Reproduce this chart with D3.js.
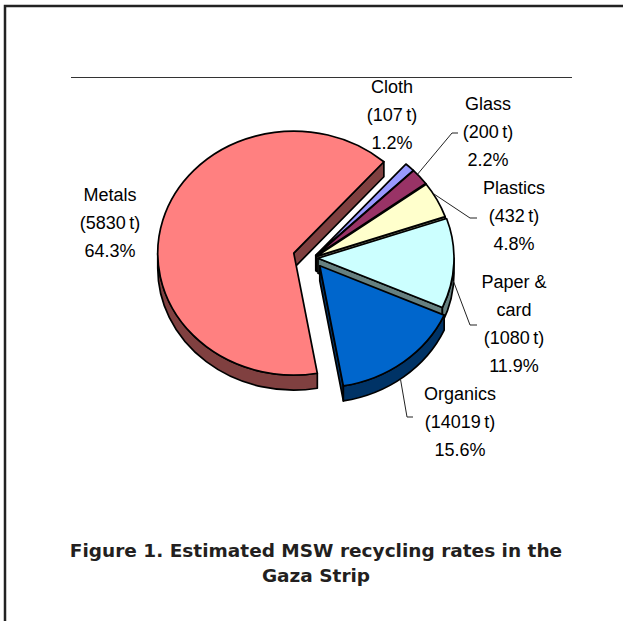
<!DOCTYPE html>
<html>
<head>
<meta charset="utf-8">
<script src="https://cdn.jsdelivr.net/npm/d3@7"></script>
<style>
  html, body { margin: 0; padding: 0; background: #fff; }
  svg { display: block; font-family: "Liberation Sans", Arial, sans-serif; }
</style>
</head>
<body>
<div id="chart"></div>
<script>
// Data, listed clockwise starting from the top right of the pie
const categories = ['Cloth', 'Glass', 'Plastics', 'Paper & card', 'Organics', 'Metals'];
const nameLines = [['Cloth'], ['Glass'], ['Plastics'], ['Paper &', 'card'], ['Organics'], ['Metals']];
const tonnes = [107, 200, 432, 1080, 14019, 5830];
const percents = [1.2, 2.2, 4.8, 11.9, 15.6, 64.3];
const topColors = ['#9999FF', '#993366', '#FFFFCC', '#CCFFFF', '#0066CC', '#FF8080'];
const titleLines = ['Figure 1. Estimated MSW recycling rates in the', 'Gaza Strip'];

// Layout
const W = 623, H = 621;
const geo = { cx: 313, cy: 258, rx: 136, ry: 122, depth: 15, startDeg: 41.5 };
const explode = [4, 4, 4, 5, 11, 20];
const lineGap = 28;
// label block centre x / first baseline, plus leader line (t = position along slice arc, w = share of wall depth)
const labelLayout = [
    { x: 392, y: 93 },
    { x: 488, y: 110, leader: { t: 0.3, w: 0, elbow: [452, 133], end: [458, 133] } },
    { x: 514, y: 194, leader: { t: 0.3, w: 0, elbow: [470, 218], end: [477, 218] } },
    { x: 514, y: 288, leader: { t: 0.57, w: 0.75, elbow: [470, 325], end: [477, 325] } },
    { x: 460, y: 400, leader: { t: 0.53, w: 1, elbow: [407, 417], end: [413, 417] } },
    { x: 110, y: 201 }
];

const data = categories.map((c, i) => ({
    name: c, lines: nameLines[i], tonnes: tonnes[i], pct: percents[i],
    color: topColors[i], explode: explode[i], label: labelLayout[i]
}));

const start = geo.startDeg * Math.PI / 180;
const pie = d3.pie().sort(null).value(d => d.pct)
    .startAngle(start).endAngle(start + 2 * Math.PI);
const arcs = pie(data);

const svg = d3.select('#chart').append('svg')
    .attr('width', W)
    .attr('height', H);

// Frame (top and left rules) and the thin rule above the chart
svg.append('path')
    .attr('d', `M5,${H}V6H${W}`)
    .attr('fill', 'none')
    .attr('stroke', '#222')
    .attr('stroke-width', 2.5);

svg.append('line')
    .attr('x1', 71).attr('x2', 572)
    .attr('y1', 77.5).attr('y2', 77.5)
    .attr('stroke', '#333')
    .attr('stroke-width', 1);

const k = geo.ry / geo.rx;
const pt = (c, a) => [c[0] + geo.rx * Math.sin(a), c[1] - geo.ry * Math.cos(a)];
const fmt = d3.format('.1f');

function sideColor(c) {
    const r = d3.rgb(c);
    return d3.rgb(r.r * 0.5, r.g * 0.5, r.b * 0.5).formatHex();
}

arcs.forEach(a => {
    const mid = (a.startAngle + a.endAngle) / 2;
    const e = a.data.explode;
    a.center = [geo.cx + e * Math.sin(mid), geo.cy - e * Math.cos(mid) * k];
    a.mid = mid;
});

function topPath(c, a0, a1) {
    const p0 = pt(c, a0), p1 = pt(c, a1);
    const large = a1 - a0 > Math.PI ? 1 : 0;
    return `M${c}L${p0}A${geo.rx},${geo.ry} 0 ${large} 1 ${p1}Z`;
}

function wallPath(c, s, e) {
    const d = geo.depth;
    const p0 = pt(c, s), p1 = pt(c, e);
    const large = e - s > Math.PI ? 1 : 0;
    return `M${p0}A${geo.rx},${geo.ry} 0 ${large} 1 ${p1}` +
        `L${p1[0]},${p1[1] + d}A${geo.rx},${geo.ry} 0 ${large} 0 ${p0[0]},${p0[1] + d}Z`;
}

function cutPath(c, a) {
    const d = geo.depth;
    const p = pt(c, a);
    return `M${c}L${p}L${p[0]},${p[1] + d}L${c[0]},${c[1] + d}Z`;
}

// side pieces: visible cut faces and the front part of the outer wall
const sides = [];
arcs.forEach(a => {
    const c = a.center, fill = sideColor(a.data.color);
    if (Math.cos(a.startAngle - Math.PI / 2) < 0) sides.push({ d: cutPath(c, a.startAngle), fill, z: -Math.cos(a.mid) });
    if (Math.cos(a.endAngle + Math.PI / 2) < 0) sides.push({ d: cutPath(c, a.endAngle), fill, z: -Math.cos(a.mid) });
    [0, 2 * Math.PI].forEach(off => {
        const s = Math.max(a.startAngle, Math.PI / 2 + off);
        const e = Math.min(a.endAngle, 3 * Math.PI / 2 + off);
        if (e > s) sides.push({ d: wallPath(c, s, e), fill, z: -Math.cos(a.mid) + 0.01 });
    });
});
sides.sort((p, q) => p.z - q.z);

const pieG = svg.append('g')
    .attr('stroke', '#000')
    .attr('stroke-width', 1.7)
    .attr('stroke-linejoin', 'round');

pieG.selectAll('.side')
    .data(sides)
    .enter()
    .append('path')
    .attr('class', 'side')
    .attr('d', d => d.d)
    .attr('fill', d => d.fill);

pieG.selectAll('.top')
    .data(arcs)
    .enter()
    .append('path')
    .attr('class', 'top')
    .attr('d', a => topPath(a.center, a.startAngle, a.endAngle))
    .attr('fill', a => a.data.color);

// Leader lines
const line = d3.line();
svg.selectAll('.leader')
    .data(arcs.filter(a => a.data.label.leader))
    .enter()
    .append('path')
    .attr('class', 'leader')
    .attr('fill', 'none')
    .attr('stroke', '#222')
    .attr('stroke-width', 1)
    .attr('d', a => {
        const L = a.data.label.leader;
        const p = pt(a.center, a.startAngle + L.t * (a.endAngle - a.startAngle));
        return line([[p[0], p[1] + L.w * geo.depth], L.elbow, L.end]);
    });

// Data labels
const labels = svg.selectAll('.label')
    .data(arcs)
    .enter()
    .append('text')
    .attr('class', 'label')
    .attr('text-anchor', 'middle')
    .attr('font-size', '18px')
    .attr('fill', '#000');

labels.each(function(a) {
    const lab = a.data.label;
    const rows = [...a.data.lines, `(${a.data.tonnes}\u2009t)`, `${fmt(a.data.pct)}%`];
    d3.select(this).selectAll('tspan')
        .data(rows)
        .enter()
        .append('tspan')
        .attr('x', lab.x)
        .attr('y', (r, i) => lab.y + i * lineGap)
        .text(r => r);
});

// Caption
svg.append('text')
    .attr('text-anchor', 'middle')
    .attr('font-family', '"DejaVu Sans", sans-serif')
    .attr('font-size', '18.5px')
    .attr('font-weight', 'bold')
    .attr('fill', '#231f20')
    .selectAll('tspan')
    .data(titleLines)
    .enter()
    .append('tspan')
    .attr('x', 316)
    .attr('y', (t, i) => 557 + i * 25)
    .text(t => t);
</script>
</body>
</html>
